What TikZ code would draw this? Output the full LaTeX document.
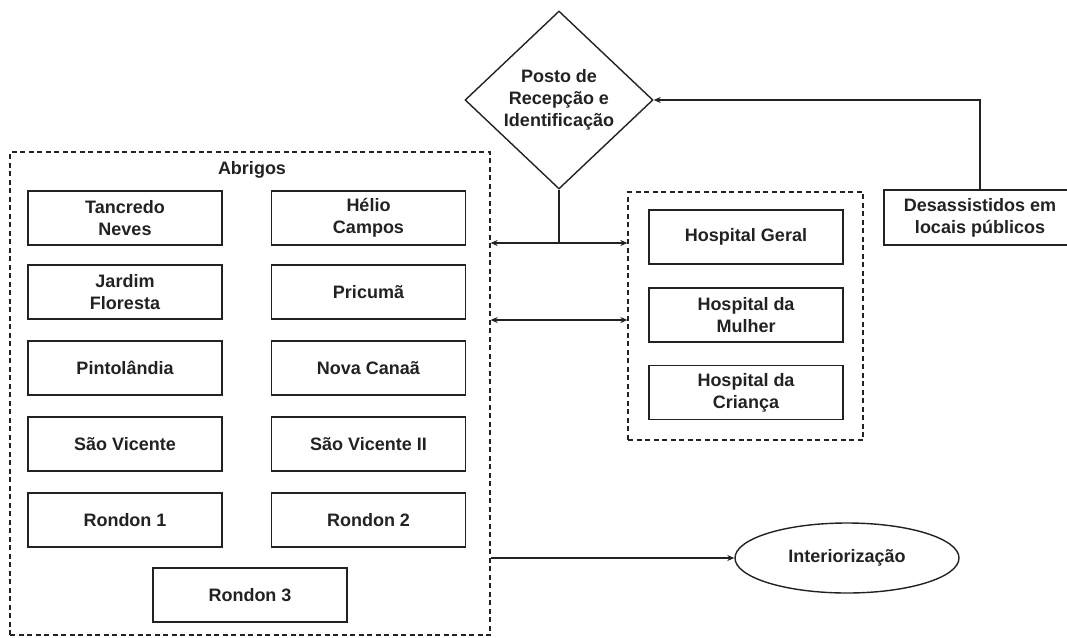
\documentclass[tikz,border=0pt]{standalone}
\usepackage{fontspec}
\setmainfont{Liberation Sans}
\usetikzlibrary{shapes.geometric,arrows.meta}
\definecolor{ink}{HTML}{222222}
\begin{document}
\begin{tikzpicture}[x=1pt,y=-1pt,
  every node/.style={font=\fontsize{18}{22}\selectfont\bfseries, text=ink, align=center},
  box/.style={draw=ink, line width=1.7pt, minimum width=194pt, minimum height=54pt, inner sep=0pt},
  group/.style={draw=ink, line width=1.3pt, dash pattern=on 5pt off 3.5pt, inner sep=0pt},
  link/.style={draw=ink, line width=1.4pt},
  tip/.style={-{Stealth[length=7pt,width=6pt]}},
  tips/.style={{Stealth[length=7pt,width=6pt]}-{Stealth[length=7pt,width=6pt]}}]
\useasboundingbox (0,0) rectangle (1067,637);
\clip (0,0) rectangle (1067,637);

% central intake point
\node[diamond, draw=ink, line width=1.4pt, minimum width=188pt, minimum height=178pt, inner sep=0pt]
  (posto) at (559,100) {Posto de\\Recepção e\\Identificação};

% shelters group
\node[group, minimum width=480pt, minimum height=483pt] (abrigos) at (250,393.5) {};
\node (abrigoslbl) at (252,170) {Abrigos};
\node[box] (tancredo) at (125,218) {Tancredo\\Neves};
\node[box] (helio) at (368.5,218) {Hélio\\Campos};
\node[box] (jardim) at (125,292) {Jardim\\Floresta};
\node[box] (pricuma) at (368.5,292) {Pricumã};
\node[box] (pinto) at (125,368) {Pintolândia};
\node[box] (nova) at (368.5,368) {Nova Canaã};
\node[box] (sv) at (125,444) {São Vicente};
\node[box] (sv2) at (368.5,444) {São Vicente II};
\node[box] (r1) at (125,520) {Rondon 1};
\node[box] (r2) at (368.5,520) {Rondon 2};
\node[box] (r3) at (250,595) {Rondon 3};

% hospitals group
\node[group, minimum width=235pt, minimum height=248pt] (hosp) at (745.5,316) {};
\node[box] (hgeral) at (746,237) {Hospital Geral};
\node[box] (hmulher) at (746,315) {Hospital da\\Mulher};
\node[box] (hcrianca) at (746,392.5) {Hospital da\\Criança};

% people in public places
\node[box, minimum width=192pt, minimum height=55pt] (desa) at (980,217.5) {Desassistidos em\\locais públicos};

% relocation
\node[ellipse, draw=ink, line width=1.4pt, minimum width=224pt, minimum height=70pt, inner sep=0pt]
  (inter) at (847,558) {Interiorização};

% connectors
\coordinate (split) at (559,243);
\coordinate (lower) at (559,320);
\draw[link] (posto.south) -- (split);
\draw[link, tips] (abrigos.east |- split) -- (hosp.west |- split);
\draw[link, tips] (abrigos.east |- lower) -- (hosp.west |- lower);
\draw[link, tip] (desa.north) |- (posto.east);
\draw[link, tip] (abrigos.east |- inter.west) -- (inter.west);
\end{tikzpicture}
\end{document}
